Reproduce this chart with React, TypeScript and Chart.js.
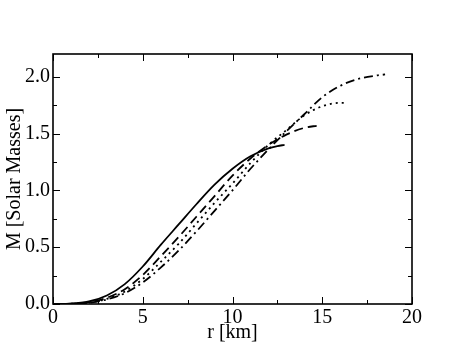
import React, { useEffect, useRef } from "react";
import { Chart, registerables } from "chart.js";

Chart.register(...registerables);

// Mass-radius curves: r [km] vs M [Solar Masses]
const solidR = [0, 1, 2, 3, 4, 5, 6, 7, 8, 9, 10, 11, 12, 12.5, 12.9];
const solidM = [0, 0.003, 0.022, 0.075, 0.175, 0.33, 0.52, 0.7, 0.88, 1.05, 1.19, 1.3, 1.37, 1.39, 1.4];

const dashedR = [0, 1, 2, 3, 4, 5, 6, 7, 8, 9, 10, 11, 12, 13, 14, 14.75];
const dashedM = [0, 0.002, 0.016, 0.055, 0.13, 0.255, 0.42, 0.59, 0.77, 0.95, 1.13, 1.28, 1.4, 1.49, 1.55, 1.57];

const dottedR = [0, 1, 2, 3, 4, 5, 6, 7, 8, 9, 10, 11, 12, 13, 14, 15, 16, 16.3];
const dottedM = [0, 0.002, 0.013, 0.045, 0.11, 0.22, 0.37, 0.53, 0.71, 0.89, 1.06, 1.24, 1.4, 1.53, 1.66, 1.74, 1.77, 1.77];

const dashDotR = [0, 1, 2, 3, 4, 5, 6, 7, 8, 9, 10, 11, 12, 13, 14, 15, 16, 17, 18, 18.5];
const dashDotM = [0, 0.001, 0.011, 0.04, 0.095, 0.19, 0.32, 0.47, 0.64, 0.82, 1.0, 1.19, 1.36, 1.52, 1.67, 1.82, 1.92, 1.98, 2.01, 2.02];

const xMajorTicks = [0, 5, 10, 15, 20];
const xMinorTicks = [2.5, 7.5, 12.5, 17.5];
const yMajorTicks = [0, 0.5, 1.0, 1.5, 2.0];
const yMinorTicks = [0.25, 0.75, 1.25, 1.75];

const xTitle = "r [km]";
const yTitle = "M [Solar Masses]";

const toPoints = (xs: number[], ys: number[]) => xs.map((x, i) => ({ x, y: ys[i] }));

const framePlugin = {
  id: "frameTicks",
  afterDraw(chart: any) {
    const { ctx, chartArea } = chart;
    const { left, right, top, bottom } = chartArea;
    const xs = chart.scales.x;
    const ys = chart.scales.y;
    ctx.save();
    ctx.strokeStyle = "#000";
    ctx.lineWidth = 1.6;
    ctx.strokeRect(left, top, right - left, bottom - top);
    ctx.lineWidth = 1;
    const major = 7;
    const minor = 4;
    const drawX = (v: number, len: number) => {
      const px = Math.round(xs.getPixelForValue(v)) + 0.5;
      ctx.beginPath();
      ctx.moveTo(px, bottom);
      ctx.lineTo(px, bottom - len);
      ctx.moveTo(px, top);
      ctx.lineTo(px, top + len);
      ctx.stroke();
    };
    const drawY = (v: number, len: number) => {
      const py = Math.round(ys.getPixelForValue(v)) + 0.5;
      ctx.beginPath();
      ctx.moveTo(left, py);
      ctx.lineTo(left + len, py);
      ctx.moveTo(right, py);
      ctx.lineTo(right - len, py);
      ctx.stroke();
    };
    xMajorTicks.forEach((v) => drawX(v, major));
    xMinorTicks.forEach((v) => drawX(v, minor));
    yMajorTicks.forEach((v) => drawY(v, major));
    yMinorTicks.forEach((v) => drawY(v, minor));
    ctx.restore();
  },
};

export default function App() {
  const ref = useRef<HTMLCanvasElement>(null);
  useEffect(() => {
    document.body.style.margin = "0";
    const font = { family: "'Liberation Serif', 'Times New Roman', serif", size: 20 };
    const ds = (xs: number[], ys: number[], dash: number[]) => ({
      data: toPoints(xs, ys),
      borderColor: "#000",
      backgroundColor: "#000",
      borderWidth: 1.8,
      borderDash: dash,
      pointRadius: 0,
      fill: false,
      cubicInterpolationMode: "monotone" as const,
    });
    const chart = new Chart(ref.current!, {
      type: "line",
      data: {
        datasets: [
          ds(solidR, solidM, []),
          ds(dashedR, dashedM, [9, 5]),
          ds(dottedR, dottedM, [2, 4]),
          ds(dashDotR, dashDotM, [9, 4, 2, 4]),
        ],
      },
      options: {
        animation: false,
        responsive: true,
        maintainAspectRatio: false,
        layout: { padding: { left: 0, top: 54, right: 51, bottom: 0 } },
        plugins: { legend: { display: false }, tooltip: { enabled: false } },
        scales: {
          x: {
            type: "linear",
            min: 0,
            max: 20,
            grid: { display: false, drawTicks: false },
            border: { display: false },
            afterBuildTicks: (s: any) => {
              s.ticks = xMajorTicks.map((v) => ({ value: v }));
            },
            afterFit: (s: any) => {
              s.height = 54;
            },
            ticks: { color: "#000", font, padding: 2, maxRotation: 0, autoSkip: false },
            title: { display: true, text: xTitle, color: "#000", font, padding: { top: 0, bottom: 13 } },
          },
          y: {
            type: "linear",
            min: 0,
            max: 2.2,
            grid: { display: false, drawTicks: false },
            border: { display: false },
            afterBuildTicks: (s: any) => {
              s.ticks = yMajorTicks.map((v) => ({ value: v }));
            },
            afterFit: (s: any) => {
              s.width = 53;
            },
            ticks: {
              color: "#000",
              font,
              padding: 3,
              autoSkip: false,
              callback: (v: any) => Number(v).toFixed(1),
            },
            title: { display: true, text: yTitle, color: "#000", font, padding: { top: 3, bottom: 0 } },
          },
        },
      },
      plugins: [framePlugin],
    });
    return () => chart.destroy();
  }, []);
  return (
    <div style={{ position: "fixed", left: 0, top: 0, width: 463, height: 358, background: "#fff" }}>
      <canvas ref={ref} />
    </div>
  );
}
